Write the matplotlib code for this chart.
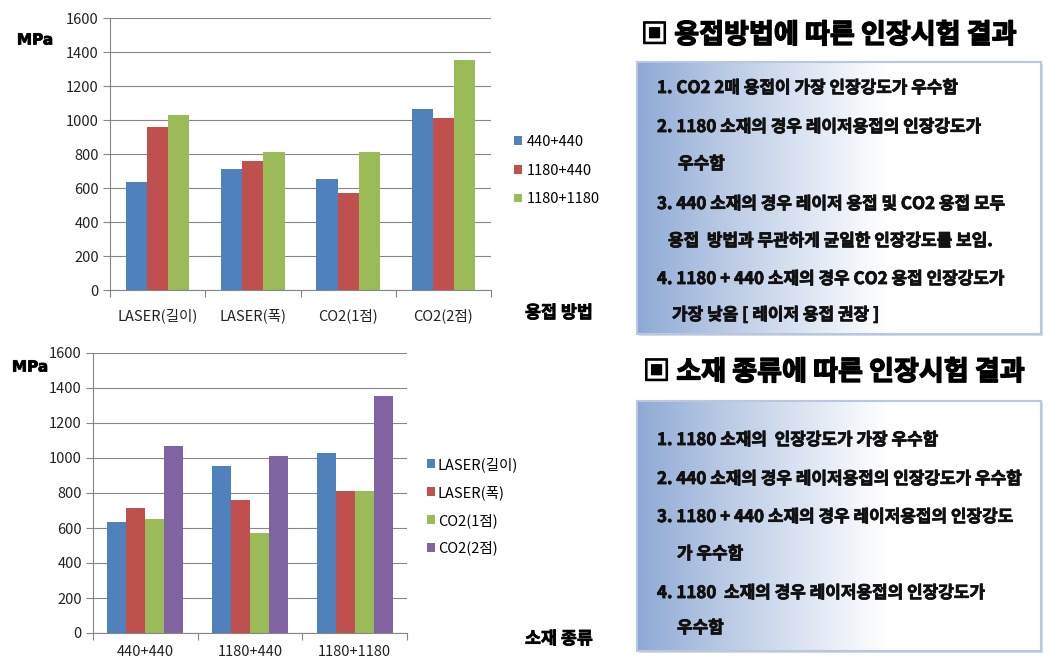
import numpy as np
import matplotlib
matplotlib.use("Agg")
import matplotlib.pyplot as plt
import matplotlib.patheffects as pe

plt.rcParams['font.family'] = ['Noto Sans CJK KR', 'DejaVu Sans']

# ---------------- data ----------------
methods = ["LASER(길이)", "LASER(폭)", "CO2(1점)", "CO2(2점)"]
materials = ["440+440", "1180+440", "1180+1180"]
# tensile strength (MPa) per material, in method order
v_440_440 = [636, 712, 654, 1066]
v_1180_440 = [956, 758, 570, 1013]
v_1180_1180 = [1030, 812, 812, 1355]
y_ticks = [0, 200, 400, 600, 800, 1000, 1200, 1400, 1600]

title1 = "▣ 용접방법에 따른 인장시험 결과"
title2 = "▣ 소재 종류에 따른 인장시험 결과"
lines1 = ["1. CO2 2매 용접이 가장 인장강도가 우수함",
          "2. 1180 소재의 경우 레이저용접의 인장강도가",
          "우수함",
          "3. 440 소재의 경우 레이저 용접 및 CO2 용접 모두",
          "용접  방법과 무관하게 균일한 인장강도를 보임.",
          "4. 1180 + 440 소재의 경우 CO2 용접 인장강도가",
          "가장 낮음 [ 레이저 용접 권장 ]"]
lines2 = ["1. 1180 소재의  인장강도가 가장 우수함",
          "2. 440 소재의 경우 레이저용접의 인장강도가 우수함",
          "3. 1180 + 440 소재의 경우 레이저용접의 인장강도",
          "가 우수함",
          "4. 1180  소재의 경우 레이저용접의 인장강도가",
          "우수함"]

W, H = 1058, 669
fig = plt.figure(figsize=(W / 100, H / 100), dpi=100)
fig.patch.set_facecolor("white")

def fx(x):
    return x / W

def fy(y):
    return 1 - y / H

c_blue, c_red, c_green, c_purple = "#4F81BD", "#C0504D", "#9BBB59", "#8064A2"
grid_c = "#868686"
tick_fs = 10.5

def style_axes(ax, ncat, labels, pad):
    ax.set_ylim(0, 1600)
    ax.set_xlim(-0.5, ncat - 0.5)
    ax.set_yticks(y_ticks)
    ax.set_yticklabels([str(t) for t in y_ticks], fontsize=tick_fs, color="#222222")
    ax.yaxis.grid(True, color=grid_c, linewidth=0.8)
    ax.set_axisbelow(True)
    for s in ["top", "right"]:
        ax.spines[s].set_visible(False)
    for s in ["left", "bottom"]:
        ax.spines[s].set_color(grid_c)
        ax.spines[s].set_linewidth(0.8)
    ax.set_xticks(np.arange(ncat + 1) - 0.5)
    ax.set_xticklabels([])
    ax.set_xticks(np.arange(ncat), minor=True)
    ax.set_xticklabels(labels, minor=True, fontsize=tick_fs, color="#222222")
    ax.tick_params(axis="x", which="major", length=5, color=grid_c, width=0.8)
    ax.tick_params(axis="x", which="minor", length=0, pad=pad)
    ax.tick_params(axis="y", length=5, color=grid_c, width=0.8, pad=3)

# ---------------- top chart: by welding method ----------------
ax1 = fig.add_axes([fx(110), fy(290), fx(491) - fx(110), fy(18) - fy(290)])
x = np.arange(len(methods))
w1 = 1 / 4.5
series1 = [(materials[0], v_440_440, c_blue),
           (materials[1], v_1180_440, c_red),
           (materials[2], v_1180_1180, c_green)]
for i, (lab, vals, col) in enumerate(series1):
    ax1.bar(x + (i - 1) * w1, vals, width=w1, color=col, label=lab, zorder=2)
style_axes(ax1, len(methods), methods, 13)
ax1.legend(loc="upper left", bbox_to_anchor=(fx(514), fy(135)),
           bbox_transform=fig.transFigure, frameon=False, fontsize=tick_fs,
           handlelength=0.55, handleheight=0.55, handletextpad=0.3,
           labelspacing=1.0, borderaxespad=0, borderpad=0)

# ---------------- bottom chart: by material ----------------
ax2 = fig.add_axes([fx(93), fy(633), fx(407) - fx(93), fy(353) - fy(633)])
x2 = np.arange(len(materials))
w2 = 1 / 5.5
by_method = np.array([v_440_440, v_1180_440, v_1180_1180]).T
cols2 = [c_blue, c_red, c_green, c_purple]
for j, m in enumerate(methods):
    ax2.bar(x2 + (j - 1.5) * w2, by_method[j], width=w2, color=cols2[j], label=m, zorder=2)
style_axes(ax2, len(materials), materials, 9)
ax2.legend(loc="upper left", bbox_to_anchor=(fx(427), fy(457)),
           bbox_transform=fig.transFigure, frameon=False, fontsize=tick_fs,
           handlelength=0.55, handleheight=0.55, handletextpad=0.2,
           labelspacing=0.9, borderaxespad=0, borderpad=0)

heavy = [pe.withStroke(linewidth=0.6, foreground="#111111")]

# axis captions
for (xx, yy) in [(35, 40), (30, 367)]:
    fig.text(fx(xx), fy(yy), "MPa", ha="center", va="center", fontsize=11,
             fontweight="bold", family=["DejaVu Sans"], path_effects=heavy)
fig.text(fx(559), fy(313), "용접 방법", ha="center", va="center", fontsize=12.5,
         fontweight="bold", path_effects=heavy)
fig.text(fx(559), fy(639), "소재 종류", ha="center", va="center", fontsize=12.5,
         fontweight="bold", path_effects=heavy)

# ---------------- right panels ----------------
grad = np.linspace(0, 1, 400)
t = np.clip(grad / 0.62, 0, 1) ** 0.9
left_c = np.array([0.55, 0.66, 0.83])
right_c = np.array([1.0, 1.0, 1.0])
row = left_c[None, :] * (1 - t[:, None]) + right_c[None, :] * t[:, None]
img = np.repeat(row[None, :, :], 2, axis=0)

def panel(x0, y0, x1, y1):
    sax = fig.add_axes([fx(x0 + 2), fy(y1 + 2), fx(x1) - fx(x0), fy(y0) - fy(y1)], zorder=0)
    sax.set_facecolor("#D5DBE6")
    sax.set_xticks([])
    sax.set_yticks([])
    for s in sax.spines.values():
        s.set_visible(False)
    pax = fig.add_axes([fx(x0), fy(y1), fx(x1) - fx(x0), fy(y0) - fy(y1)], zorder=1)
    pax.imshow(img, aspect="auto", extent=[0, 1, 0, 1], interpolation="bilinear")
    pax.set_xlim(0, 1)
    pax.set_ylim(0, 1)
    pax.set_xticks([])
    pax.set_yticks([])
    for s in pax.spines.values():
        s.set_color("#B9C8DE")
        s.set_linewidth(1.5)

panel(637, 62, 1041, 334)
panel(637, 401, 1041, 651)

title_fx = [pe.withStroke(linewidth=1.0, foreground="black")]
fig.text(fx(641), fy(35), title1, ha="left", va="center", fontsize=19.5,
         fontweight="bold", path_effects=title_fx, zorder=5)
fig.text(fx(643), fy(372), title2, ha="left", va="center", fontsize=19.5,
         fontweight="bold", path_effects=title_fx, zorder=5)

ys1 = [88, 127, 164, 204, 241, 279, 315]
xs1 = [657, 657, 678, 657, 668, 657, 672]
for s, xx, yy in zip(lines1, xs1, ys1):
    fig.text(fx(xx), fy(yy), s, ha="left", va="center", fontsize=12.2,
             fontweight="bold", color="#111111", path_effects=heavy, zorder=5)

ys2 = [440, 479, 517, 554, 593, 628]
xs2 = [657, 657, 657, 677, 657, 677]
for s, xx, yy in zip(lines2, xs2, ys2):
    fig.text(fx(xx), fy(yy), s, ha="left", va="center", fontsize=12.2,
             fontweight="bold", color="#111111", path_effects=heavy, zorder=5)

fig.savefig("out.png", dpi=100)
